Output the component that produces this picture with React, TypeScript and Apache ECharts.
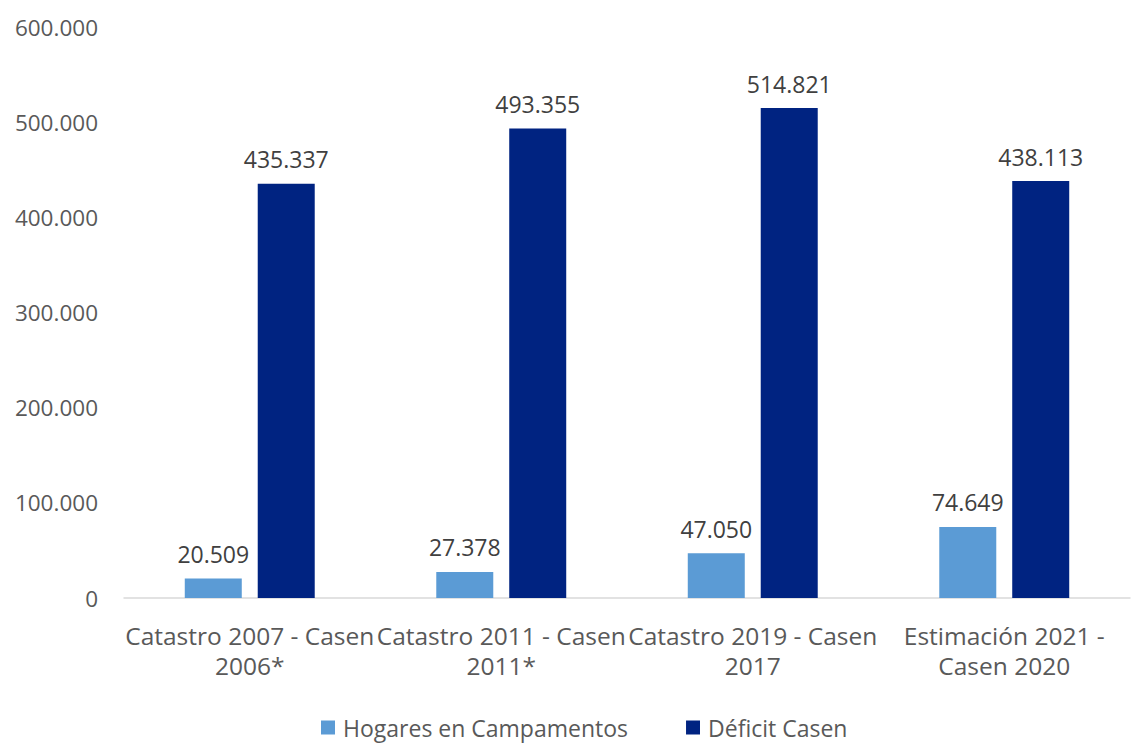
import React, { useEffect, useRef } from "react";
import * as echarts from "echarts";

const categories = [
  "Catastro 2007 - Casen\n2006*",
  "Catastro 2011 - Casen\n2011*",
  "Catastro 2019 - Casen\n2017",
  "Estimación 2021 -\nCasen 2020",
];
const hogaresCampamentos = [20509, 27378, 47050, 74649];
const deficitCasen = [435337, 493355, 514821, 438113];
const seriesNames = ["Hogares en Campamentos", "Déficit Casen"];

const fmt = (v: number) => {
  const s = Math.round(v).toString();
  return s.replace(/\B(?=(\d{3})+(?!\d))/g, ".");
};

const FONT = "'Open Sans', 'Noto Sans', sans-serif";

export default function App() {
  const ref = useRef<HTMLDivElement>(null);
  useEffect(() => {
    if (!ref.current) return;
    const chart = echarts.init(ref.current, undefined, { renderer: "svg" });
    const labelStyle = {
      show: true,
      position: "top" as const,
      distance: 13,
      color: "#404040",
      fontSize: 23,
      fontFamily: FONT,
      formatter: (p: any) => fmt(p.value),
    };
    chart.setOption({
      animation: false,
      backgroundColor: "#ffffff",
      textStyle: { fontFamily: FONT },
      grid: { left: 124, right: 5, top: 27, bottom: 146, containLabel: false },
      legend: {
        bottom: 0,
        left: 316,
        itemWidth: 14,
        itemHeight: 14,
        itemGap: 58,
        icon: "rect",
        textStyle: {
          fontSize: 23,
          color: "#595959",
          fontFamily: FONT,
          padding: [0, 0, 0, 3],
        },
        data: seriesNames,
      },
      xAxis: {
        type: "category",
        data: categories,
        axisLine: { lineStyle: { color: "#d9d9d9", width: 1.5 } },
        axisTick: { show: false },
        axisLabel: {
          interval: 0,
          color: "#595959",
          fontSize: 24.5,
          fontFamily: FONT,
          margin: 22,
          lineHeight: 30,
        },
      },
      yAxis: {
        type: "value",
        min: 0,
        max: 600000,
        interval: 100000,
        axisLine: { show: false },
        axisTick: { show: false },
        splitLine: { show: false },
        axisLabel: {
          color: "#595959",
          fontSize: 22.5,
          fontFamily: FONT,
          margin: 26,
          formatter: (v: number) => fmt(v),
        },
      },
      series: [
        {
          name: seriesNames[0],
          type: "bar",
          data: hogaresCampamentos,
          barWidth: 57,
          barGap: "28%",
          itemStyle: { color: "#5b9bd5" },
          label: labelStyle,
        },
        {
          name: seriesNames[1],
          type: "bar",
          data: deficitCasen,
          barWidth: 57,
          barGap: "28%",
          itemStyle: { color: "#002381" },
          label: labelStyle,
        },
      ],
    });
    return () => chart.dispose();
  }, []);
  return (
    <div
      ref={ref}
      style={{ position: "fixed", left: 0, top: 0, width: 1135, height: 744 }}
    />
  );
}
